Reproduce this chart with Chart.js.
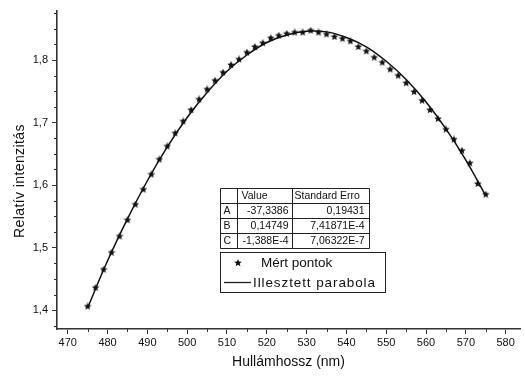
<!DOCTYPE html>
<html>
<head>
<meta charset="utf-8">
<script src="https://cdn.jsdelivr.net/npm/chart.js@4/dist/chart.umd.min.js"></script>
<style>
  html, body { margin: 0; padding: 0; background: #fff; }
  #wrap { width: 525px; height: 378px; }
</style>
</head>
<body>
<div id="wrap"><canvas id="chart" width="525" height="378"></canvas></div>
<script>
// measured points (nm, relative intensity)
const measuredX = [475, 477, 479, 481, 483, 485, 487, 489, 491, 493,
  495, 497, 499, 501, 503, 505, 507, 509, 511, 513,
  515, 517, 519, 521, 523, 525, 527, 529, 531, 533,
  535, 537, 539, 541, 543, 545, 547, 549, 551, 553,
  555, 557, 559, 561, 563, 565, 567, 569, 571, 573, 575];
const measuredY = [1.406, 1.436, 1.465, 1.492, 1.518, 1.544, 1.569, 1.593, 1.617, 1.641,
  1.662, 1.683, 1.702, 1.720, 1.737, 1.753, 1.767, 1.780, 1.792, 1.801,
  1.812, 1.821, 1.827, 1.835, 1.839, 1.842, 1.844, 1.844, 1.847, 1.844,
  1.841, 1.837, 1.834, 1.830, 1.821, 1.814, 1.804, 1.796, 1.785, 1.775,
  1.763, 1.749, 1.735, 1.720, 1.706, 1.689, 1.673, 1.655, 1.635, 1.602, 1.585];

// fitted parabola, sampled every 5 nm
const fitX = [475, 480, 485, 490, 495, 500, 505, 510, 515, 520, 525,
  530, 535, 540, 545, 550, 555, 560, 565, 570, 575];
const fitY = [1.404, 1.479, 1.546, 1.607, 1.661, 1.708, 1.748, 1.782, 1.808, 1.828, 1.840,
  1.846, 1.845, 1.836, 1.821, 1.798, 1.769, 1.733, 1.690, 1.640, 1.583];

// axis ticks
const xMajorTicks = [470, 480, 490, 500, 510, 520, 530, 540, 550, 560, 570, 580];
const xMinorTicks = [475, 485, 495, 505, 515, 525, 535, 545, 555, 565, 575];
const yMajorTicks = [1.4, 1.5, 1.6, 1.7, 1.8];
const yMinorTicks = [1.375, 1.425, 1.45, 1.475, 1.525, 1.55, 1.575, 1.625, 1.65, 1.675,
  1.725, 1.75, 1.775, 1.825, 1.85, 1.875];

// fit parameter table
const paramNames = ['A', 'B', 'C'];
const paramValues = ['-37,3386', '0,14749', '-1,388E-4'];
const paramErrors = ['0,19431', '7,41871E-4', '7,06322E-7'];

const legendLabels = ['Mért pontok', 'Illesztett parabola'];
const yTitle = 'Relatív intenzitás';

const FONT = "'Liberation Sans', Arial, sans-serif";
const INK = '#111';

function makeStar(size) {
  const c = document.createElement('canvas');
  c.width = size; c.height = size;
  const g = c.getContext('2d');
  const cx = size / 2, cy = size / 2, R = size / 2, r = R * 0.45;
  g.beginPath();
  for (let i = 0; i < 10; i++) {
    const rad = i % 2 === 0 ? R : r;
    const a = -Math.PI / 2 + i * Math.PI / 5;
    g.lineTo(cx + rad * Math.cos(a), cy + rad * Math.sin(a));
  }
  g.closePath();
  g.fillStyle = INK;
  g.fill();
  return c;
}
const starImg = makeStar(8);

const commaLabel = v => v.toFixed(1).replace('.', ',');

// short minor tick marks on both axes
const minorTicks = {
  id: 'minorTicks',
  afterDraw(chart) {
    const { ctx, chartArea, scales } = chart;
    ctx.save();
    ctx.strokeStyle = '#333';
    ctx.lineWidth = 1;
    ctx.beginPath();
    xMinorTicks.forEach(v => {
      const px = Math.round(scales.x.getPixelForValue(v)) + 0.5;
      ctx.moveTo(px, chartArea.bottom);
      ctx.lineTo(px, chartArea.bottom + 3);
    });
    yMinorTicks.forEach(v => {
      const py = Math.round(scales.y.getPixelForValue(v)) + 0.5;
      ctx.moveTo(chartArea.left, py);
      ctx.lineTo(chartArea.left - 3, py);
    });
    ctx.stroke();
    ctx.restore();
  }
};

// y axis title, sitting a little below the middle of the axis
const yAxisTitle = {
  id: 'yAxisTitle',
  afterDraw(chart) {
    const ctx = chart.ctx;
    ctx.save();
    ctx.translate(20, 181);
    ctx.rotate(-Math.PI / 2);
    ctx.fillStyle = INK;
    ctx.font = '14px ' + FONT;
    ctx.letterSpacing = '0.4px';
    ctx.textAlign = 'center';
    ctx.textBaseline = 'middle';
    ctx.fillText(yTitle, 0, 0);
    ctx.restore();
  }
};

// parameter table and legend box inside the plot
const fitBoxes = {
  id: 'fitBoxes',
  afterDraw(chart) {
    const ctx = chart.ctx;
    ctx.save();
    ctx.strokeStyle = '#222';
    ctx.lineWidth = 1;
    ctx.fillStyle = '#fff';

    const cols = [220.5, 237.5, 292.5, 369.5];
    const rows = [188.5, 203.5, 218.5, 233.5, 248.5];
    ctx.fillRect(cols[0], rows[0], cols[3] - cols[0], rows[4] - rows[0]);
    ctx.beginPath();
    cols.forEach(x => { ctx.moveTo(x, rows[0]); ctx.lineTo(x, rows[4]); });
    rows.forEach(y => { ctx.moveTo(cols[0], y); ctx.lineTo(cols[3], y); });
    ctx.stroke();

    ctx.fillStyle = INK;
    ctx.font = '10.5px ' + FONT;
    ctx.textBaseline = 'middle';
    ctx.textAlign = 'left';
    ctx.fillText('Value', cols[1] + 4, (rows[0] + rows[1]) / 2 + 0.5);
    ctx.fillText('Standard Erro', cols[2] + 2, (rows[0] + rows[1]) / 2 + 0.5);
    paramNames.forEach((n, i) => {
      const y = (rows[i + 1] + rows[i + 2]) / 2 + 0.5;
      ctx.textAlign = 'left';
      ctx.fillText(n, cols[0] + 3, y);
      ctx.textAlign = 'right';
      ctx.fillText(paramValues[i], cols[2] - 4, y);
      ctx.fillText(paramErrors[i], cols[3] - 5, y);
    });

    // legend
    const lx0 = 220.5, lx1 = 385.5, ly0 = 252.5, ly1 = 292.5;
    ctx.fillStyle = '#fff';
    ctx.fillRect(lx0, ly0, lx1 - lx0, ly1 - ly0);
    ctx.strokeRect(lx0, ly0, lx1 - lx0, ly1 - ly0);
    ctx.drawImage(starImg, 238 - 4, 263 - 4, 8, 8);
    ctx.lineWidth = 1.3;
    ctx.beginPath();
    ctx.moveTo(224, 282.5);
    ctx.lineTo(251, 282.5);
    ctx.stroke();
    ctx.fillStyle = INK;
    ctx.font = '13.5px ' + FONT;
    ctx.textAlign = 'left';
    ctx.fillText(legendLabels[0], 261, 263);
    ctx.letterSpacing = '0.9px';
    ctx.fillText(legendLabels[1], 253, 283);
    ctx.restore();
  }
};

const ctx = document.getElementById('chart').getContext('2d');
const chart = new Chart(ctx, {
  type: 'scatter',
  data: {
    datasets: [
      {
        label: legendLabels[0],
        data: measuredX.map((x, i) => ({ x: x, y: measuredY[i] })),
        pointStyle: starImg,
        pointRadius: 4,
        pointHoverRadius: 4,
        showLine: false,
        order: 0
      },
      {
        label: legendLabels[1],
        data: fitX.map((x, i) => ({ x: x, y: fitY[i] })),
        showLine: true,
        borderColor: INK,
        borderWidth: 1.5,
        tension: 0.4,
        pointRadius: 0,
        fill: false,
        order: 1
      }
    ]
  },
  options: {
    responsive: false,
    animation: false,
    layout: { padding: { top: 7, right: 3, left: 0, bottom: 0 } },
    plugins: {
      legend: { display: false },
      tooltip: { enabled: false }
    },
    scales: {
      x: {
        type: 'linear',
        min: 467.3,
        max: 583.6,
        afterBuildTicks: s => { s.ticks = xMajorTicks.map(v => ({ value: v })); },
        afterFit: s => { s.height = 49; },
        border: { color: '#333', width: 1.6 },
        grid: { drawOnChartArea: false, tickLength: 5, tickColor: '#333', tickWidth: 1 },
        ticks: { color: INK, font: { family: FONT, size: 11 }, padding: 2, maxRotation: 0 },
        title: {
          display: true,
          text: 'Hullámhossz (nm)',
          color: INK,
          font: { family: FONT, size: 14 },
          padding: { top: 0, bottom: 7 }
        }
      },
      y: {
        type: 'linear',
        min: 1.37,
        max: 1.879,
        afterBuildTicks: s => { s.ticks = yMajorTicks.map(v => ({ value: v })); },
        afterFit: s => { s.width = 57; },
        border: { color: '#333', width: 1.6 },
        grid: { drawOnChartArea: false, tickLength: 5, tickColor: '#333', tickWidth: 1 },
        ticks: {
          color: INK,
          font: { family: FONT, size: 11 },
          padding: 4,
          callback: v => commaLabel(v)
        }
      }
    }
  },
  plugins: [minorTicks, fitBoxes, yAxisTitle]
});
</script>
</body>
</html>
